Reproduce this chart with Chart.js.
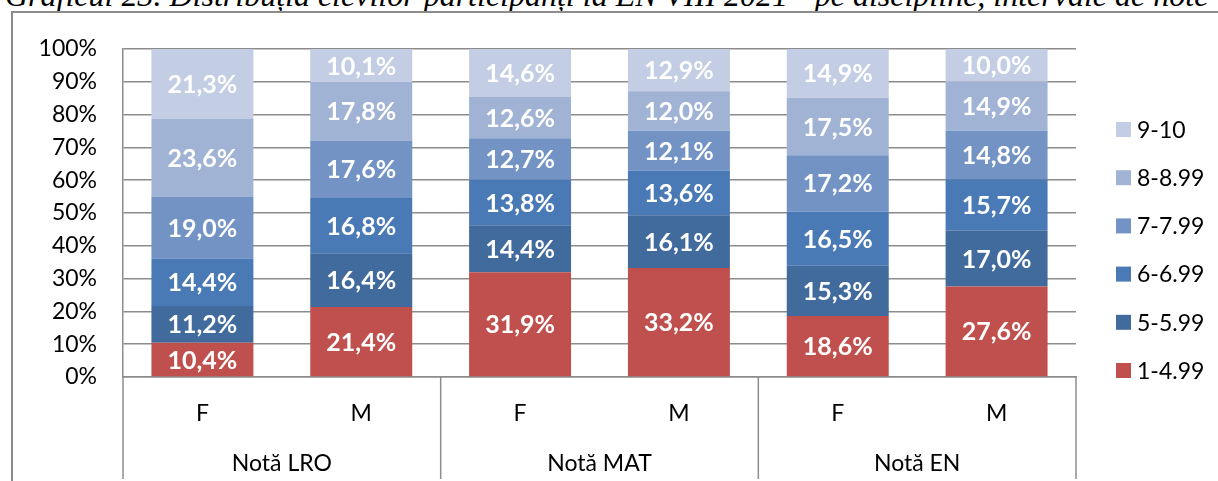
<!DOCTYPE html>
<html><head><meta charset="utf-8">
<script src="https://cdn.jsdelivr.net/npm/chart.js@4.4.1/dist/chart.umd.min.js"></script>
<style>
html,body{margin:0;padding:0;background:#fff;overflow:hidden;width:1218px;height:481px;}
#title{position:absolute;left:5px;top:-21px;white-space:nowrap;font:italic 32px "Liberation Serif","Times New Roman",serif;line-height:32px;color:#000;}
#frame{position:absolute;left:11px;top:11px;width:1300px;height:600px;border-left:2px solid #8c8c8c;border-top:2px solid #8c8c8c;}
#wrap{position:absolute;left:0;top:0;width:1218px;height:481px;}
</style></head><body>
<div id="title">Graficul 23. Distribuția elevilor participanți la EN VIII 2021 - pe discipline, intervale de note</div>
<div id="frame"></div>
<div id="wrap"><canvas id="c" width="1218" height="481"></canvas></div>
<script>
// ---- data ----
const groups = ['Notă LRO', 'Notă MAT', 'Notă EN'];
const categories = ['F', 'M', 'F', 'M', 'F', 'M'];
const seriesNames = ['1-4.99', '5-5.99', '6-6.99', '7-7.99', '8-8.99', '9-10'];
const s1to4 = [10.4, 21.4, 31.9, 33.2, 18.6, 27.6];
const s5 = [11.2, 16.4, 14.4, 16.1, 15.3, 17.0];
const s6 = [14.4, 16.8, 13.8, 13.6, 16.5, 15.7];
const s7 = [19.0, 17.6, 12.7, 12.1, 17.2, 14.8];
const s8 = [23.6, 17.8, 12.6, 12.0, 17.5, 14.9];
const s9 = [21.3, 10.1, 14.6, 12.9, 14.9, 10.0];
const yTickValues = [0, 10, 20, 30, 40, 50, 60, 70, 80, 90, 100];

// ---- styles ----
const seriesColors = ['#C0504D', '#416A9D', '#4A7AB5', '#7293C4', '#A1B3D5', '#C3CDE3'];
const FONT = 'Lato';
const GRID = '#8c8c8c';

const raw = [s1to4, s5, s6, s7, s8, s9];
const totals = categories.map((_, j) => raw.reduce((a, s) => a + s[j], 0));
const fmt = v => v.toFixed(1).replace('.', ',') + '%';

const datasets = raw.map((s, i) => ({
  label: seriesNames[i],
  data: s.map((v, j) => v / totals[j] * 100),
  rawValues: s,
  backgroundColor: seriesColors[i],
  borderWidth: 0,
  categoryPercentage: 1,
  barPercentage: 0.642
}));

const extras = {
  id: 'extras',
  afterDatasetsDraw(chart) {
    const ctx = chart.ctx;
    ctx.save();
    ctx.font = 'bold 25px ' + FONT;
    ctx.fillStyle = '#ffffff';
    ctx.textAlign = 'center';
    ctx.textBaseline = 'alphabetic';
    chart.data.datasets.forEach((ds, i) => {
      const meta = chart.getDatasetMeta(i);
      meta.data.forEach((bar, j) => {
        const cy = (bar.y + bar.base) / 2;
        ctx.fillText(fmt(ds.rawValues[j]), bar.x, cy + 9);
      });
    });
    ctx.restore();
  },
  afterDraw(chart) {
    const { ctx, chartArea: ca, scales: { x } } = chart;
    ctx.save();
    ctx.strokeStyle = GRID;
    ctx.lineWidth = 1.5;
    const per = categories.length / groups.length;
    for (let g = 0; g <= groups.length; g++) {
      let px;
      if (g === 0) px = ca.left;
      else if (g === groups.length) px = ca.right;
      else px = (x.getPixelForValue(g * per - 1) + x.getPixelForValue(g * per)) / 2;
      ctx.beginPath();
      ctx.moveTo(px, ca.bottom);
      ctx.lineTo(px, 479);
      ctx.stroke();
    }
    ctx.font = '23px ' + FONT;
    ctx.fillStyle = '#000';
    ctx.textAlign = 'center';
    ctx.textBaseline = 'alphabetic';
    groups.forEach((gname, i) => {
      const cx = (x.getPixelForValue(i * per) + x.getPixelForValue(i * per + per - 1)) / 2;
      ctx.fillText(gname, cx, 471);
    });
    // legend (top = last series)
    ctx.textAlign = 'left';
    const n = chart.data.datasets.length;
    for (let k = 0; k < n; k++) {
      const ds = chart.data.datasets[n - 1 - k];
      const cy = 129.5 + k * 48.2;
      ctx.fillStyle = ds.backgroundColor;
      ctx.fillRect(1116, cy - 7.5, 15, 15);
      ctx.fillStyle = '#000';
      ctx.fillText(ds.label, 1137, cy + 8.3);
    }
    ctx.restore();
  }
};

new Chart(document.getElementById('c'), {
  type: 'bar',
  data: { labels: categories, datasets },
  options: {
    responsive: false,
    animation: false,
    layout: { padding: { top: 49, right: 142, left: 0, bottom: 0 } },
    plugins: { legend: { display: false }, tooltip: { enabled: false } },
    scales: {
      x: {
        stacked: true,
        grid: { display: false, drawTicks: false },
        border: { display: true, color: GRID, width: 1.5 },
        ticks: { color: '#000', font: { family: FONT, size: 23 }, padding: 23 },
        afterFit: s => { s.height = 104; }
      },
      y: {
        stacked: true,
        min: 0, max: 100,
        afterBuildTicks: s => { s.ticks = yTickValues.map(v => ({ value: v })); },
        grid: { color: GRID, lineWidth: 1.5, drawTicks: false },
        border: { display: true, color: GRID, width: 1.5 },
        ticks: { color: '#000', font: { family: FONT, size: 23 }, padding: 26, callback: v => v + '%' },
        afterFit: s => { s.width = 123; }
      }
    }
  },
  plugins: [extras]
});
</script>
</body></html>
